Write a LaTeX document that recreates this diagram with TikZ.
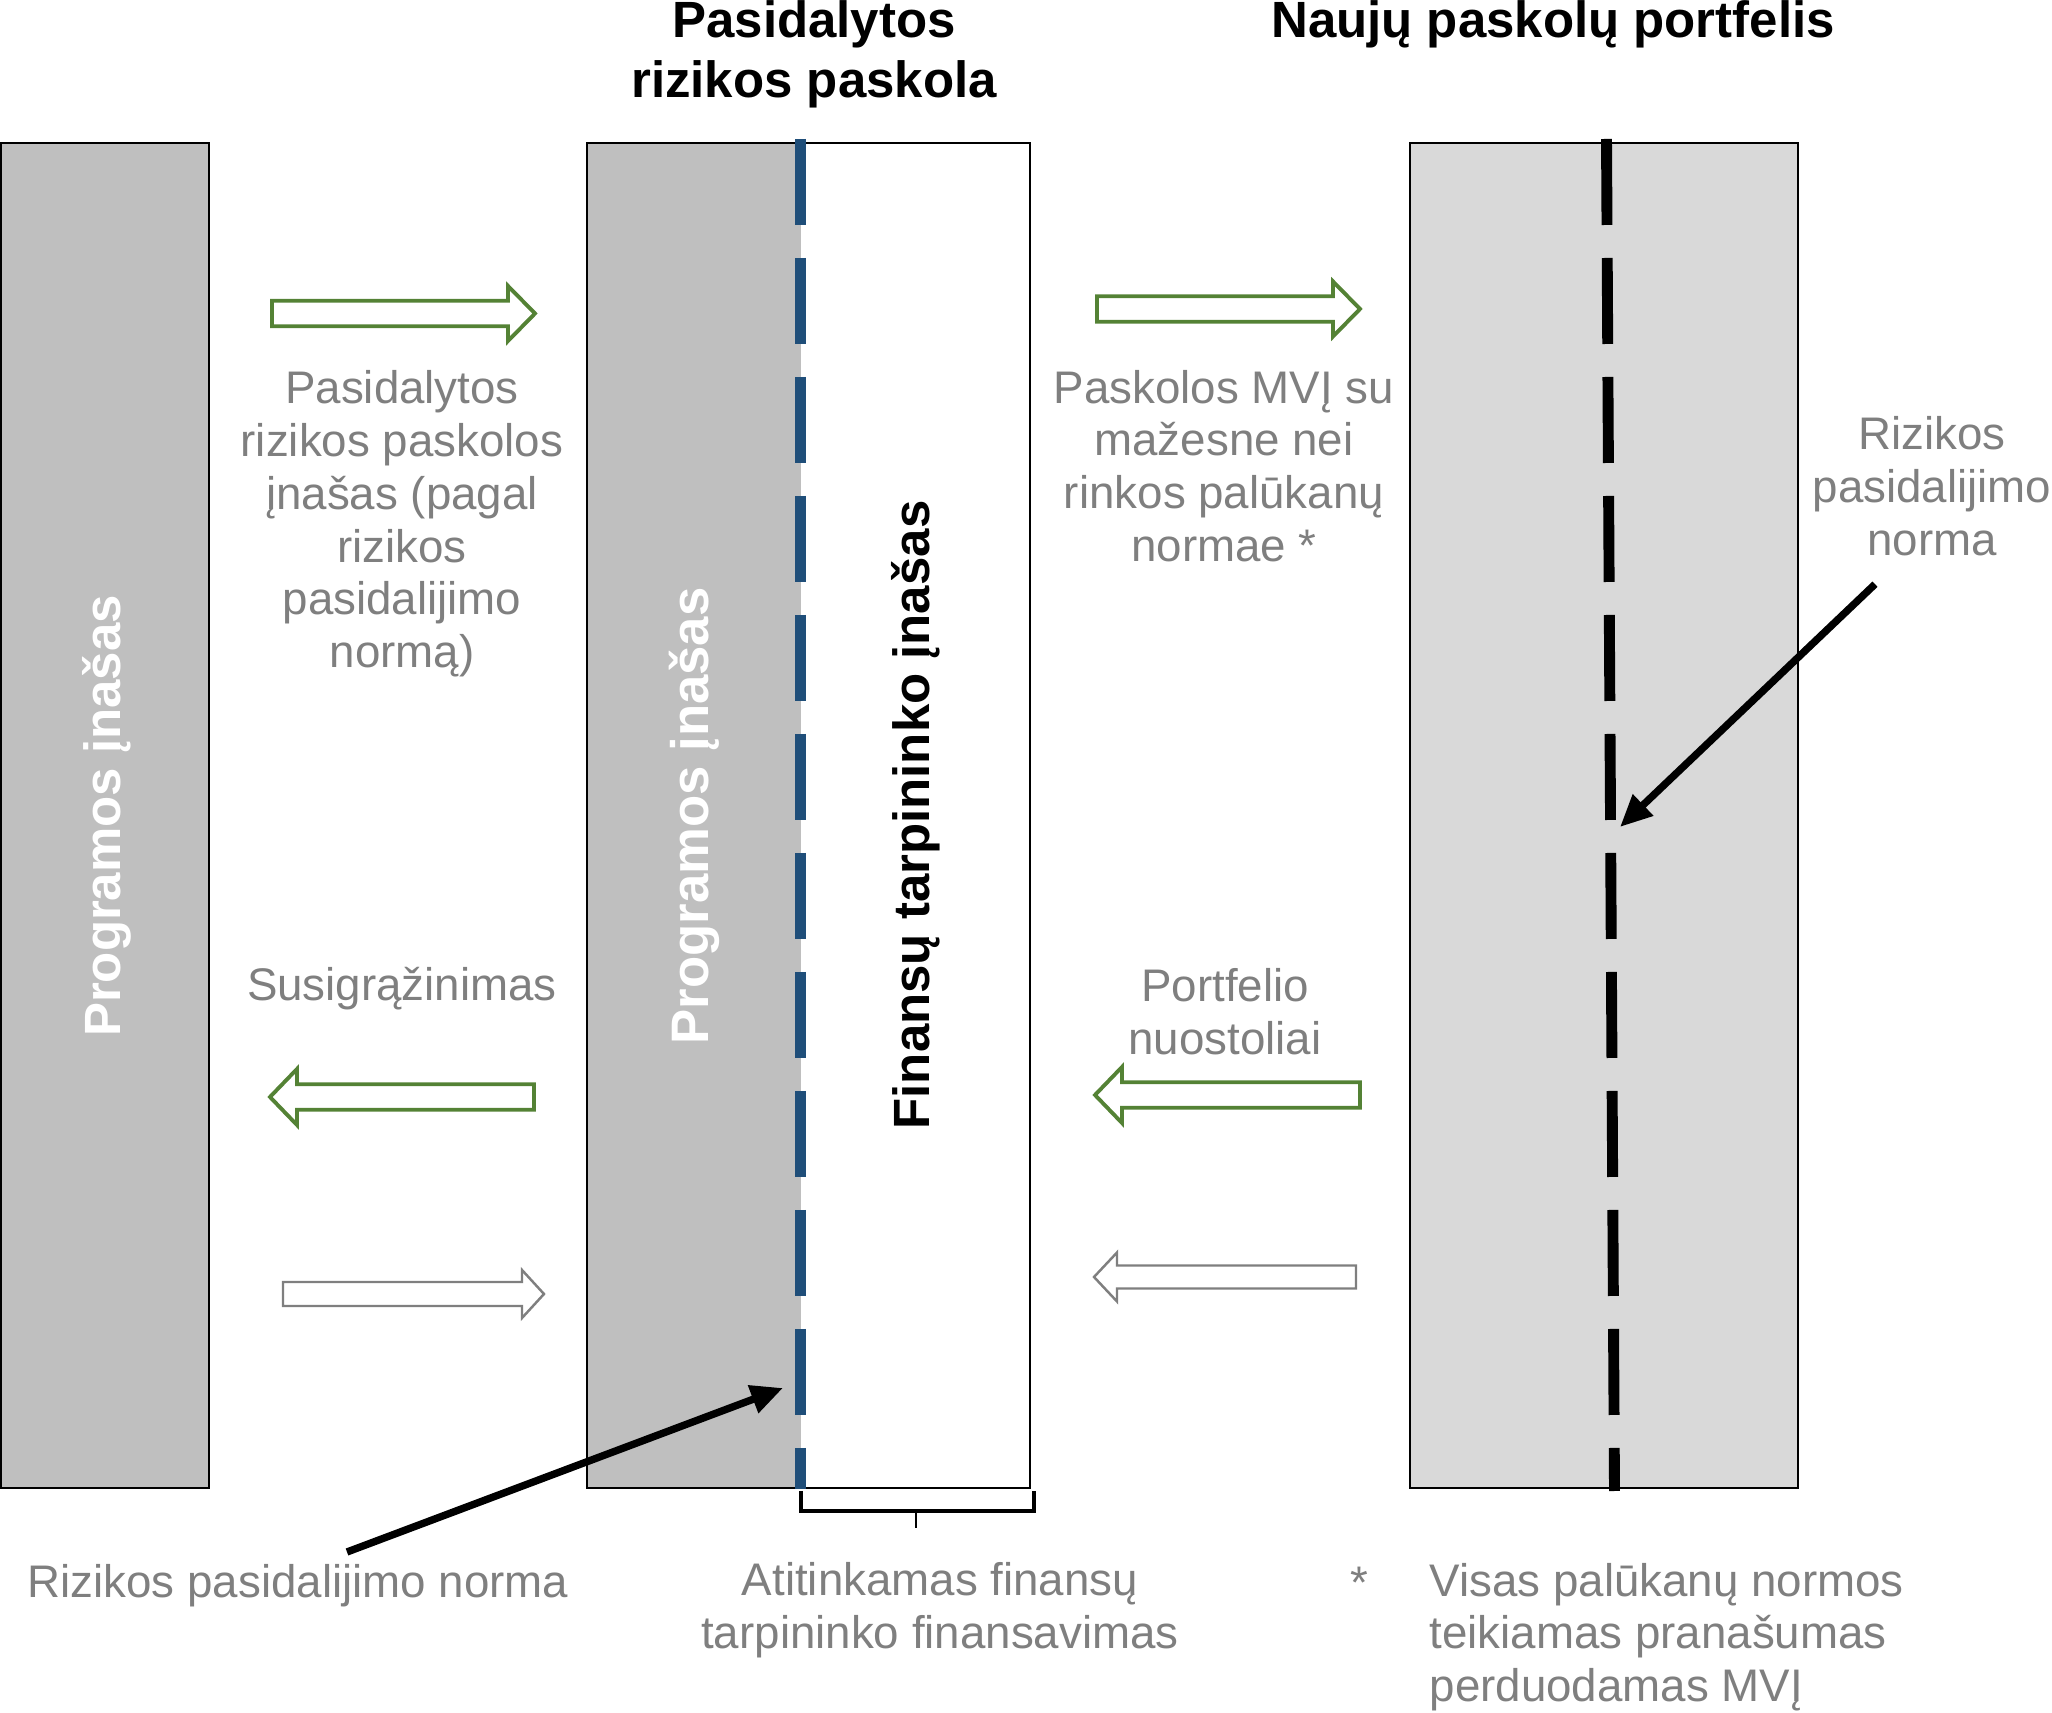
\documentclass[tikz,border=0pt]{standalone}
\usepackage{fontspec}
\setmainfont{Liberation Sans}
\usetikzlibrary{arrows.meta}
\definecolor{barfill}{HTML}{BFBFBF}
\definecolor{portfill}{HTML}{D9D9D9}
\definecolor{shareblue}{HTML}{1F4E79}
\definecolor{flowgreen}{HTML}{548235}
\definecolor{txtgray}{HTML}{7F7F7F}

\begin{document}
\begin{tikzpicture}[
  hd/.style={font=\fontsize{14.5}{17}\selectfont\bfseries,align=center,inner sep=0pt},
  vt/.style={font=\fontsize{14.5}{17}\selectfont\bfseries,rotate=90,inner sep=0pt},
  gt/.style={font=\fontsize{13}{15}\selectfont,text=txtgray,align=center,inner sep=0pt},
  box/.style={draw,line width=0.5pt},
  split/.style={line width=3.1pt,dash pattern=on 8.6mm off 3.3mm},
  grn/.style={draw=flowgreen,line width=1.1pt,fill=white},
  gry/.style={draw=txtgray,line width=0.7pt,fill=white},
  pt/.style={-{Triangle[length=3.2mm,width=2.8mm]},line width=2.1pt}]

\useasboundingbox (0,0) rectangle (20.52,-17.13);

% --- bars ---
\fill[barfill] (0.01,-1.427) rectangle (2.09,-14.88);
\draw[box] (0.01,-1.427) rectangle (2.09,-14.88);
\fill[barfill] (5.87,-1.427) rectangle (8.005,-14.88);
\draw[box] (5.87,-1.427) rectangle (10.30,-14.88);
\fill[portfill] (14.10,-1.427) rectangle (17.98,-14.88);
\draw[box] (14.10,-1.427) rectangle (17.98,-14.88);

% --- split lines ---
\draw[split,shareblue] (8.005,-1.39) -- (8.005,-14.89);
\draw[split,black] (16.065,-1.39) -- (16.145,-14.91);

% --- titles and bar texts ---
\node[hd] (ttlL) at (8.14,-0.54) {Pasidalytos\\rizikos paskola};
\node[hd] (ttlR) at (15.53,-0.24) {Naujų paskolų portfelis};
\node[vt,text=white] (progA) at (1.07,-8.16) {Programos įnašas};
\node[vt,text=white,font=\fontsize{15}{17}\selectfont\bfseries] (progB) at (6.94,-8.16) {Programos įnašas};
\node[vt] (fint) at (9.16,-8.15) {Finansų tarpininko įnašas};

% --- flows ---
\foreach \ta/\tb/\yy/\sh/\hh/\hl/\st in {
    2.72/5.35/-3.135/0.127/0.275/0.27/grn,
    10.97/13.60/-3.09/0.127/0.275/0.27/grn,
    5.34/2.70/-10.97/0.127/0.28/0.27/grn,
    13.60/10.95/-10.95/0.127/0.28/0.27/grn,
    2.83/5.44/-12.94/0.12/0.24/0.22/gry,
    13.56/10.94/-12.77/0.115/0.245/0.23/gry}{
  \pgfmathsetmacro\hb{\tb-\hl*sign(\tb-\ta)}
  \draw[\st] (\ta,\yy-\sh) -- (\hb,\yy-\sh) -- (\hb,\yy-\hh) -- (\tb,\yy)
    -- (\hb,\yy+\hh) -- (\hb,\yy+\sh) -- (\ta,\yy+\sh) -- cycle;
}

\node[gt] (inA) at (4.02,-5.24)
  {Pasidalytos\\rizikos paskolos\\įnašas (pagal\\rizikos\\pasidalijimo\\normą)};
\node[gt] (loan) at (12.24,-4.66)
  {Paskolos MVĮ su\\mažesne nei\\rinkos palūkanų\\normae *};
\node[gt] (rnR) at (19.32,-4.86) {Rizikos\\pasidalijimo\\norma};
\node[gt] (back) at (4.02,-9.89) {Susigrąžinimas};
\node[gt] (loss) at (12.25,-10.12) {Portfelio\\nuostoliai};

% --- bottom notes ---
\node[gt] (rnB) at (2.98,-15.86) {Rizikos pasidalijimo norma};
\node[gt] (fiB) at (9.40,-16.10) {Atitinkamas finansų\\tarpininko finansavimas};
\node[gt,anchor=base] (star) at (13.59,-15.98) {*};
\node[gt,align=left,anchor=west] (note) at (14.29,-16.37)
  {Visas palūkanų normos\\teikiamas pranašumas\\perduodamas MVĮ};

% --- brace under intermediary part ---
\draw[line width=1.3pt] (8.01,-14.91) -- (8.01,-15.11) -- (10.34,-15.11) -- (10.34,-14.91);
\draw[line width=0.6pt] (9.16,-15.11) -- (9.16,-15.28);

% --- pointers ---
\coordinate (tipB) at (7.83,-13.88);
\coordinate (tipR) at (16.20,-8.27);
\draw[pt] ([xshift=4.9mm,yshift=1.2mm]rnB.north) -- (tipB);
\draw[pt] ([xshift=-5.7mm,yshift=-2.8mm]rnR.south) -- (tipR);
\end{tikzpicture}
\end{document}
